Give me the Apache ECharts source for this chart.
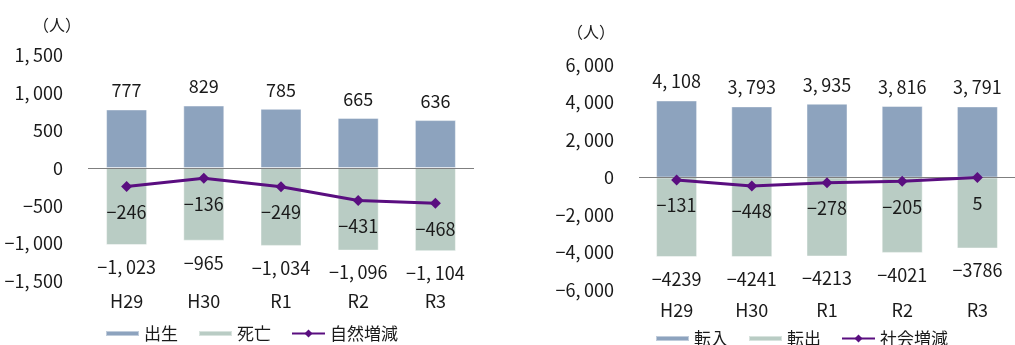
<!DOCTYPE html>
<html>
<head>
<meta charset="utf-8">
<script src="https://cdn.jsdelivr.net/npm/echarts@6/dist/echarts.min.js"></script>
<style>
  html, body { margin: 0; padding: 0; background: #fff; }
  #chart { width: 1015px; height: 345px; }
</style>
</head>
<body>
<div id="chart"></div>
<script>
// Fiscal years
const years = ['H29', 'H30', 'R1', 'R2', 'R3'];

// Natural change (left panel)
const births = [777, 829, 785, 665, 636];
const deaths = [-1023, -965, -1034, -1096, -1104];
const naturalChange = [-246, -136, -249, -431, -468];

// Social change (right panel)
const moveIn = [4108, 3793, 3935, 3816, 3791];
const moveOut = [-4239, -4241, -4213, -4021, -3786];
const socialChange = [-131, -448, -278, -205, 5];

// Axis ticks
const leftTicks = [-1500, -1000, -500, 0, 500, 1000, 1500];
const rightTicks = [-6000, -4000, -2000, 0, 2000, 4000, 6000];

const NUM_FONT = '"Noto Sans CJK JP", sans-serif';
const CJK_FONT = '"Noto Sans CJK JP", sans-serif';
const BLUE = '#8da3be';
const GREEN = '#b9ccc4';
const PURPLE = '#5a0e80';
const TEXT = '#1a1a1a';

// thousands separator with a thin gap, true minus sign
function fmt(v, comma) {
  const digits = Math.abs(v).toString();
  const s = comma ? digits.replace(/\B(?=(\d{3})+(?!\d))/g, ',\u2009') : digits;
  return (v < 0 ? '\u2212' : '') + s;
}

const chart = echarts.init(document.getElementById('chart'), null, { renderer: 'canvas' });

function yAxisFor(gridIndex, ticks) {
  return {
    type: 'value', gridIndex,
    min: ticks[0], max: ticks[ticks.length - 1],
    interval: ticks[1] - ticks[0],
    axisLine: { show: false }, axisTick: { show: false },
    splitLine: { show: false },
    axisLabel: {
      margin: 25, color: TEXT, fontFamily: NUM_FONT, fontSize: 18,
      formatter: v => fmt(v, true)
    }
  };
}

function xAxisFor(gridIndex, margin) {
  return {
    type: 'category', gridIndex, data: years,
    axisLine: { show: false }, axisTick: { show: false },
    axisLabel: { margin, color: TEXT, fontFamily: NUM_FONT, fontSize: 18 }
  };
}

const labelBase = { show: true, color: TEXT, fontFamily: NUM_FONT, fontSize: 18 };

function barSeries(name, data, idx, color, pos, dist, comma, zeroLine) {
  const s = {
    name, type: 'bar', xAxisIndex: idx, yAxisIndex: idx, stack: 'g' + idx,
    data, barWidth: 41, itemStyle: { color, borderColor: 'rgba(255,255,255,0.45)', borderWidth: 1 },
    label: Object.assign({}, labelBase, { position: pos, distance: dist, formatter: p => fmt(p.value, comma) }),
    z: 2
  };
  if (zeroLine) {
    s.markLine = {
      silent: true, symbol: 'none', label: { show: false },
      lineStyle: { color: '#7f7f7f', width: 1, type: 'solid' },
      data: [{ yAxis: 0 }], z: 3
    };
  }
  return s;
}

function lineSeries(name, data, idx) {
  return {
    name, type: 'line', xAxisIndex: idx, yAxisIndex: idx, data,
    symbol: 'diamond', symbolSize: 11,
    lineStyle: { color: PURPLE, width: 3 }, itemStyle: { color: PURPLE },
    label: Object.assign({}, labelBase, { position: 'bottom', distance: 11, formatter: p => fmt(p.value, false) }),
    z: 5
  };
}

const BAR_ICON = 'path://M0,0H33V5H0Z';
const legendBase = {
  itemWidth: 33, itemHeight: 10, itemGap: 20, padding: 0,
  textStyle: { fontFamily: CJK_FONT, fontSize: 17, color: TEXT }
};
function legendData(a, b, c) {
  return [{ name: a, icon: BAR_ICON }, { name: b, icon: BAR_ICON }, { name: c }];
}

chart.setOption({
  animation: false,
  grid: [
    { left: 88, top: 55, width: 386, height: 226 },
    { left: 639, top: 65, width: 385, height: 225 }
  ],
  xAxis: [xAxisFor(0, 11), xAxisFor(1, 11)],
  yAxis: [yAxisFor(0, leftTicks), yAxisFor(1, rightTicks)],
  legend: [
    Object.assign({}, legendBase, { left: 105, top: 325, data: legendData('出生', '死亡', '自然増減') }),
    Object.assign({}, legendBase, { left: 655, top: 330, data: legendData('転入', '転出', '社会増減') })
  ],
  graphic: [
    { type: 'text', left: 33, top: 17, style: { text: '（人）', font: '16px ' + CJK_FONT, fill: TEXT } },
    { type: 'text', left: 567, top: 24, style: { text: '（人）', font: '16px ' + CJK_FONT, fill: TEXT } }
  ],
  series: [
    barSeries('出生', births, 0, BLUE, 'top', 10, true, true),
    barSeries('死亡', deaths, 0, GREEN, 'bottom', 13, true, false),
    lineSeries('自然増減', naturalChange, 0),
    barSeries('転入', moveIn, 1, BLUE, 'top', 10, true, true),
    barSeries('転出', moveOut, 1, GREEN, 'bottom', 13, false, false),
    lineSeries('社会増減', socialChange, 1)
  ]
});
</script>
</body>
</html>
